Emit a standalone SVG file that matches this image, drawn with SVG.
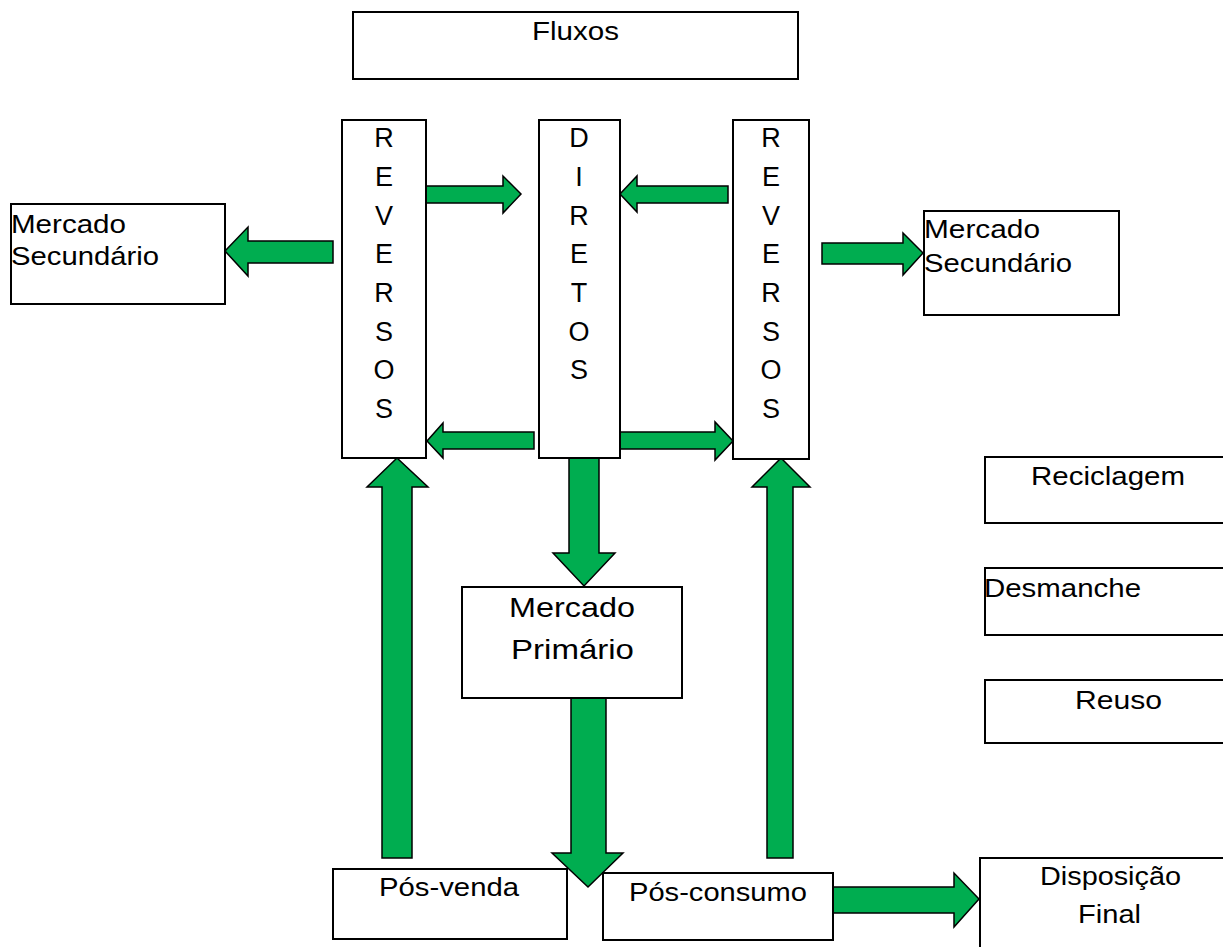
<svg xmlns="http://www.w3.org/2000/svg" width="1223" height="947" viewBox="0 0 1223 947">
<style>
.box{fill:#fff;stroke:#000;stroke-width:2}
.arr{fill:#00ad50;stroke:#000;stroke-width:1.5;stroke-linejoin:miter}
text{font-family:"Liberation Sans",Arial,sans-serif;font-size:25px;fill:#000}
.v{font-size:27px;text-anchor:middle}
.mp{font-size:28px}
</style>
<rect width="1223" height="947" fill="#fff"/>
<g id="connectors">
<polygon class="arr" points="426,186 503,186 503,176 521,194 503,213 503,203 426,203"/>
<polygon class="arr" points="728,186 637,186 637,176 620,194 637,212 637,203 728,203"/>
<polygon class="arr" points="534,432 443,432 443,423 427,441 443,458 443,449 534,449"/>
<polygon class="arr" points="620,432 715,432 715,422 733,441 715,460 715,449 620,449"/>
<polygon class="arr" points="333,241 248,241 248,227 225,251 248,276 248,263 333,263"/>
<polygon class="arr" points="822,243 903,243 903,233 923,253 903,275 903,264 822,264"/>
<polygon class="arr" points="569,458 599,458 599,553 615,553 584,586 553,553 569,553"/>
<polygon class="arr" points="571,698 606,698 606,853 623,853 588,887 552,853 571,853"/>
<polygon class="arr" points="382,858 412,858 412,487 428,487 397,458 367,487 382,487"/>
<polygon class="arr" points="767,858 793,858 793,487 810,487 781,458 752,487 767,487"/>
<polygon class="arr" points="833,887 954,887 954,873 979,899 954,927 954,913 833,913"/>
</g>
<g id="fluxos"><rect class="box" x="353" y="12" width="445" height="67"/><text x="532" y="40" textLength="87" lengthAdjust="spacingAndGlyphs">Fluxos</text></g>
<g id="reversos-esq"><rect class="box" x="342" y="120" width="84" height="338"/>
<text class="v" x="384" y="147">R</text><text class="v" x="384" y="186">E</text><text class="v" x="384" y="225">V</text><text class="v" x="384" y="263">E</text><text class="v" x="384" y="302">R</text><text class="v" x="384" y="341">S</text><text class="v" x="384" y="379">O</text><text class="v" x="384" y="418">S</text></g>
<g id="diretos"><rect class="box" x="539" y="120" width="81" height="338"/>
<text class="v" x="579" y="147">D</text><text class="v" x="579" y="186">I</text><text class="v" x="579" y="225">R</text><text class="v" x="579" y="263">E</text><text class="v" x="579" y="302">T</text><text class="v" x="579" y="341">O</text><text class="v" x="579" y="379">S</text></g>
<g id="reversos-dir"><rect class="box" x="733" y="120" width="76" height="339"/>
<text class="v" x="771" y="147">R</text><text class="v" x="771" y="186">E</text><text class="v" x="771" y="225">V</text><text class="v" x="771" y="263">E</text><text class="v" x="771" y="302">R</text><text class="v" x="771" y="341">S</text><text class="v" x="771" y="379">O</text><text class="v" x="771" y="418">S</text></g>
<g id="mercado-sec-esq"><rect class="box" x="11" y="204" width="214" height="100"/>
<text x="11" y="233" textLength="115" lengthAdjust="spacingAndGlyphs">Mercado</text><text x="11" y="265" textLength="148" lengthAdjust="spacingAndGlyphs">Secundário</text></g>
<g id="mercado-sec-dir"><rect class="box" x="924" y="211" width="195" height="104"/>
<text x="924" y="238" textLength="116" lengthAdjust="spacingAndGlyphs">Mercado</text><text x="924" y="272" textLength="148" lengthAdjust="spacingAndGlyphs">Secundário</text></g>
<g id="mercado-primario"><rect class="box" x="462" y="587" width="220" height="111"/>
<text class="mp" x="509" y="617" textLength="126" lengthAdjust="spacingAndGlyphs">Mercado</text><text class="mp" x="511" y="659" textLength="123" lengthAdjust="spacingAndGlyphs">Primário</text></g>
<g id="pos-venda"><rect class="box" x="333" y="869" width="234" height="70"/><text x="379" y="896" textLength="140" lengthAdjust="spacingAndGlyphs">Pós-venda</text></g>
<g id="pos-consumo"><rect class="box" x="603" y="873" width="230" height="67"/><text x="629" y="901" textLength="178" lengthAdjust="spacingAndGlyphs">Pós-consumo</text></g>
<g id="reciclagem"><rect class="box" x="985" y="457" width="250" height="66"/><text x="1031" y="485" textLength="154" lengthAdjust="spacingAndGlyphs">Reciclagem</text></g>
<g id="desmanche"><rect class="box" x="985" y="568" width="250" height="67"/><text x="984" y="597" textLength="157" lengthAdjust="spacingAndGlyphs">Desmanche</text></g>
<g id="reuso"><rect class="box" x="985" y="680" width="250" height="63"/><text x="1075" y="709" textLength="87" lengthAdjust="spacingAndGlyphs">Reuso</text></g>
<g id="disposicao-final"><rect class="box" x="980" y="858" width="260" height="100"/>
<text x="1040" y="885" textLength="141" lengthAdjust="spacingAndGlyphs">Disposição</text><text x="1078" y="923" textLength="63" lengthAdjust="spacingAndGlyphs">Final</text></g>
</svg>
